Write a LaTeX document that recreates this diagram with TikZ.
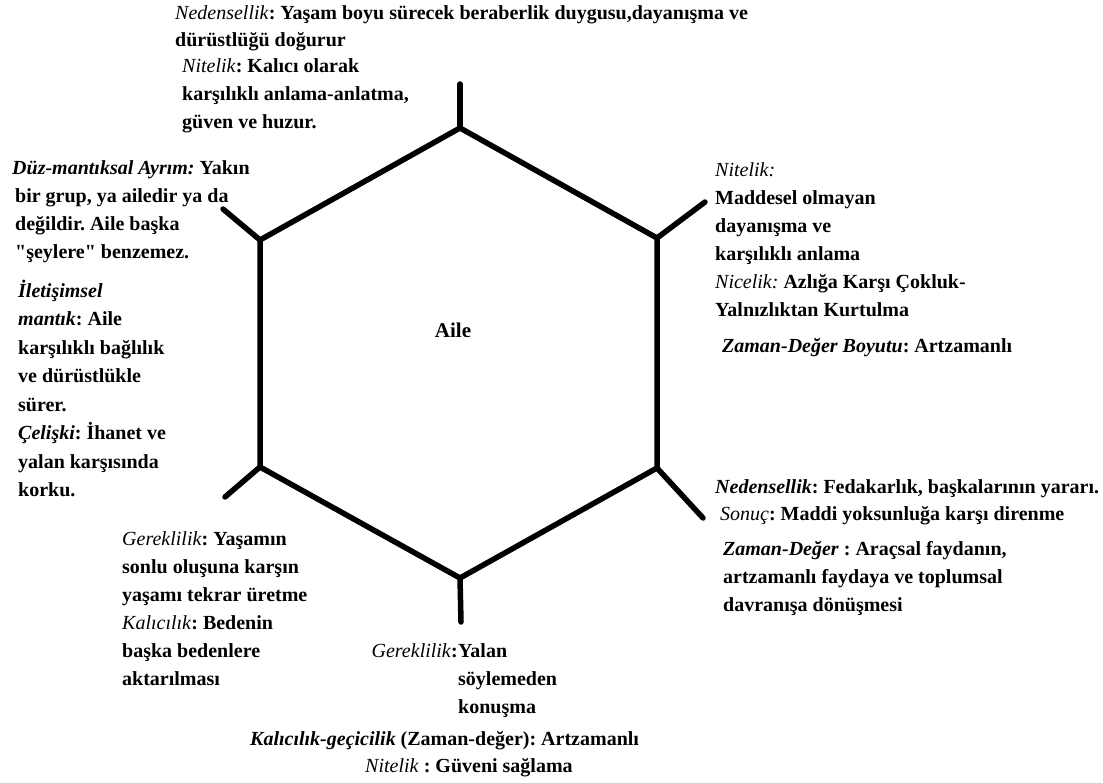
\documentclass[tikz,border=0pt]{standalone}
\usepackage{fontspec}
\setmainfont{Liberation Serif}
\frenchspacing
\begin{document}
\begin{tikzpicture}[x=1pt,y=-1pt,
  lbl/.style={font=\fontsize{20}{28}\selectfont\bfseries, align=left, inner sep=0pt, anchor=base west},
  edge/.style={line width=5.5pt, line cap=round, line join=miter}]
\useasboundingbox[fill=white] (0,0) rectangle (1103,783);
% hexagon vertices
\coordinate (vt) at (460,128);
\coordinate (vur) at (657,238);
\coordinate (vlr) at (657,468);
\coordinate (vb) at (460,578);
\coordinate (vll) at (260,467);
\coordinate (vul) at (260,240);
% spoke ends
\coordinate (st) at (460,84);
\coordinate (sur) at (705,202);
\coordinate (slr) at (703,518);
\coordinate (sb) at (461,622);
\coordinate (sll) at (225,497);
\coordinate (sul) at (223,209);
\draw[edge] (vt) -- (vur) -- (vlr) -- (vb) -- (vll) -- (vul) -- cycle;
\draw[edge] (vt) -- (st);
\draw[edge] (vur) -- (sur);
\draw[edge] (vlr) -- (slr);
\draw[edge] (vb) -- (sb);
\draw[edge] (vll) -- (sll);
\draw[edge] (vul) -- (sul);
\node[font=\fontsize{21}{26}\selectfont\bfseries, inner sep=0pt] (aile) at (453,330) {Aile};
% top (anchor = baseline of last line)
\node[lbl, font=\fontsize{20}{27}\selectfont\bfseries] (t1) at (175,47) {\textmd{\textit{Nedensellik}}: Yaşam boyu sürecek beraberlik duygusu,dayanışma ve\\dürüstlüğü doğurur};
\node[lbl] (t2) at (182,129) {\textmd{\textit{Nitelik}}: Kalıcı olarak\\karşılıklı anlama-anlatma,\\güven ve huzur.};
% upper left
\node[lbl] (l1) at (12,259) {\textit{Düz-mantıksal Ayrım:} Yakın\\\hspace*{3pt}bir grup, ya ailedir ya da\\\hspace*{3pt}değildir. Aile başka\\\hspace*{3pt}\textquotedbl şeylere\textquotedbl{} benzemez.};
\node[lbl, font=\fontsize{20}{28.5}\selectfont\bfseries] (l2) at (18,496.5) {\textit{İletişimsel}\\\textit{mantık}: Aile\\karşılıklı bağlılık\\ve dürüstlükle\\sürer.\\\textit{Çelişki}: İhanet ve\\yalan karşısında\\korku.};
% upper right
\node[lbl] (r1) at (715,317) {\textmd{\textit{Nitelik:}}\\Maddesel olmayan\\dayanışma ve\\karşılıklı anlama\\\textmd{\textit{Nicelik:}} Azlığa Karşı Çokluk-\\Yalnızlıktan Kurtulma};
\node[lbl] (r2) at (722,353) {\textit{Zaman-Değer Boyutu}: Artzamanlı};
% lower right
\node[lbl] (r3) at (715,493) {\textit{Nedensellik}: Fedakarlık, başkalarının yararı.};
\node[lbl] (r4) at (720,520) {\textmd{\textit{Sonuç}}: Maddi yoksunluğa karşı direnme};
\node[lbl] (r5) at (723,611) {\textit{Zaman-Değer} : Araçsal faydanın,\\artzamanlı faydaya ve toplumsal\\davranışa dönüşmesi};
% lower left
\node[lbl] (b1) at (122,685) {\textmd{\textit{Gereklilik}}: Yaşamın\\sonlu oluşuna karşın\\yaşamı tekrar üretme\\\textmd{\textit{Kalıcılık}}: Bedenin\\başka bedenlere\\aktarılması};
% bottom
\node[lbl, anchor=base east] (b2a) at (458,657) {\textmd{\textit{Gereklilik}}:};
\node[lbl] (b2) at (458,713) {Yalan\\söylemeden\\konuşma};
\node[lbl] (b3) at (250,745) {\textit{Kalıcılık-geçicilik} (Zaman-değer): Artzamanlı};
\node[lbl] (b4) at (365,772) {\textmd{\textit{Nitelik}} : Güveni sağlama};
\end{tikzpicture}
\end{document}
